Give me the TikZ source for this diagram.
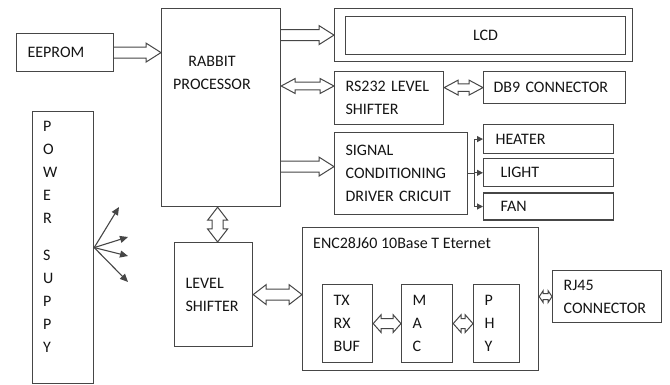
\documentclass[tikz,border=0pt]{standalone}
\usepackage{fontspec}
\setmainfont{Carlito}
\usepackage{tikz}
\usetikzlibrary{arrows.meta, positioning, calc}

\definecolor{ink}{RGB}{70,70,70}
\definecolor{inktext}{RGB}{20,20,20}
\newcommand{\diafont}{\fontsize{16}{23}\selectfont}

\begin{document}
\begin{tikzpicture}[
        x=1pt, y=-1pt,
        >={Triangle[length=8pt, width=7pt]},
        box/.style={draw=ink, line width=1.2pt, anchor=north west, inner xsep=11pt,
            inner ysep=0pt, align=left, text=inktext, font=\diafont},
        tag/.style={inner sep=0pt, text=inktext, font=\diafont},
        wire/.style={draw=ink, line width=1.1pt},
        % hollow bus arrows: shaft half width, head half width, head length
        bus/.style n args={3}{draw=ink, fill=white, line width=1pt, line join=miter,
            to path={($(\tikztostart)!#1!90:(\tikztotarget)$)
                -- ($(\tikztotarget)!#3!(\tikztostart)!#1!-90:(\tikztostart)$)
                -- ($(\tikztotarget)!#3!(\tikztostart)!#2!-90:(\tikztostart)$)
                -- (\tikztotarget)
                -- ($(\tikztotarget)!#3!(\tikztostart)!#2!90:(\tikztostart)$)
                -- ($(\tikztotarget)!#3!(\tikztostart)!#1!90:(\tikztostart)$)
                -- ($(\tikztostart)!#1!-90:(\tikztotarget)$)}},
        bibus/.style n args={3}{draw=ink, fill=white, line width=1pt, line join=miter,
            to path={(\tikztostart)
                -- ($(\tikztostart)!#3!(\tikztotarget)!#2!90:(\tikztotarget)$)
                -- ($(\tikztostart)!#3!(\tikztotarget)!#1!90:(\tikztotarget)$)
                -- ($(\tikztotarget)!#3!(\tikztostart)!#1!-90:(\tikztostart)$)
                -- ($(\tikztotarget)!#3!(\tikztostart)!#2!-90:(\tikztostart)$)
                -- (\tikztotarget)
                -- ($(\tikztotarget)!#3!(\tikztostart)!#2!90:(\tikztostart)$)
                -- ($(\tikztotarget)!#3!(\tikztostart)!#1!90:(\tikztostart)$)
                -- ($(\tikztostart)!#3!(\tikztotarget)!#1!-90:(\tikztotarget)$)
                -- ($(\tikztostart)!#3!(\tikztotarget)!#2!-90:(\tikztotarget)$)
                -- cycle}},
        fatbus/.style={bus={5.5pt}{9.5pt}{15pt}},
        fatbi/.style={bibus={5.5pt}{10pt}{13pt}},
        slimbi/.style={bibus={3.8pt}{7.5pt}{14pt}},
        shortbi/.style={bibus={5pt}{9pt}{8pt}},
        tinybi/.style={bibus={3pt}{6pt}{4pt}},
    ]
        \useasboundingbox (0,0) rectangle (670,385);

        % processor side
        \node[box, minimum width=97pt, minimum height=38pt, text width=75pt] (eeprom) at (16,33) {EEPROM};
        \node[box, minimum width=119pt, minimum height=198pt] (proc) at (161,8) {};
        \node[tag, align=center] (proctag) at (212,73) {RABBIT\\PROCESSOR};
        \node[box, minimum width=61pt, minimum height=272pt] (power) at (32,111) {};
        \node[tag, align=left, anchor=north west] (powertag) at (43,121)
            {P\\O\\W\\E\\R\\[14pt]S\\U\\P\\P\\Y};
        \node[box, minimum width=78pt, minimum height=104pt, text width=56pt] (level) at (174,242) {LEVEL\\SHIFTER};

        % peripherals
        \node[box, minimum width=298pt, minimum height=53pt] (lcdout) at (334,8) {};
        \node[box, minimum width=280pt, minimum height=38pt, text width=258pt, align=center] (lcd) at (345,16) {LCD};
        \node[box, minimum width=109pt, minimum height=53pt, text width=87pt] (rs232) at (334,71) {RS232 LEVEL\\SHIFTER};
        \node[box, minimum width=142pt, minimum height=32pt, text width=122pt, inner xsep=10pt] (db9) at (483,71) {DB9 CONNECTOR};
        \node[box, minimum width=133pt, minimum height=82pt, text width=111pt] (sig) at (334,132)
            {SIGNAL\\CONDITIONING\\DRIVER CRICUIT};
        \node[box, minimum width=130pt, minimum height=29pt, text width=106pt, inner xsep=12pt] (heater) at (483,124) {HEATER};
        \node[box, minimum width=130pt, minimum height=28pt, text width=96pt, inner xsep=17pt, below=4pt of heater] (light) {LIGHT};
        \node[box, minimum width=130pt, minimum height=27pt, text width=96pt, inner xsep=17pt, below=5pt of light] (fan) {FAN};

        % ethernet
        \node[box, minimum width=236pt, minimum height=143pt] (enc) at (302,227) {};
        \node[tag, below right=10pt and 11pt of enc.north west] (enctag) {ENC28J60 10Base T Eternet};
        \node[box, minimum width=50pt, minimum height=78pt, text width=28pt] (txrx) at (322,284) {TX\\RX\\BUF};
        \node[box, minimum width=51pt, minimum height=78pt, text width=29pt] (mac) at (401,284) {M\\A\\C};
        \node[box, minimum width=46pt, minimum height=78pt, text width=24pt] (phy) at (473,284) {P\\H\\Y};
        \node[box, minimum width=109pt, minimum height=52pt, text width=87pt] (rj45) at (552,270) {RJ45\\CONNECTOR};

        % buses
        \coordinate (rsin) at ([yshift=-15pt]rs232.north west);
        \coordinate (sigin) at ([yshift=7pt]sig.west);
        \coordinate (vbus) at ([xshift=4pt]level.north);
        \draw[fatbus] (eeprom.east) to (eeprom.east -| proc.west);
        \draw[fatbus] (proc.east |- lcdout.west) to (lcdout.west);
        \draw[slimbi] (proc.east |- rsin) to (rsin);
        \draw[slimbi] (rs232.east |- db9.west) to (db9.west);
        \draw[fatbus] (proc.east |- sigin) to (sigin);
        \draw[fatbi] (proc.south -| vbus) to (vbus);
        \draw[fatbi] (level.east) to (level.east -| enc.west);
        \draw[shortbi] (txrx.east) to (mac.west);
        \draw[shortbi] (mac.east) to (phy.west);
        \draw[tinybi] (enc.east |- rj45.west) to (rj45.west);

        % driver outputs
        \coordinate (fork) at ([xshift=6pt]sig.east);
        \draw[wire] (sig.east) -- (fork) (fork |- heater.west) -- (fork |- fan.west);
        \foreach \out in {heater, light, fan}
            \draw[wire, -{Triangle[length=6pt, width=6pt]}] (fork |- \out.west) -- (\out.west);

        % supply rails
        \foreach \n/\x/\y in {pw1/119/207, pw2/128/237, pw3/128/256, pw4/128/282} {
            \coordinate (\n) at (\x,\y);
            \draw[wire, ->] (power.east) -- (\n);
        }
    \end{tikzpicture}
\end{document}
